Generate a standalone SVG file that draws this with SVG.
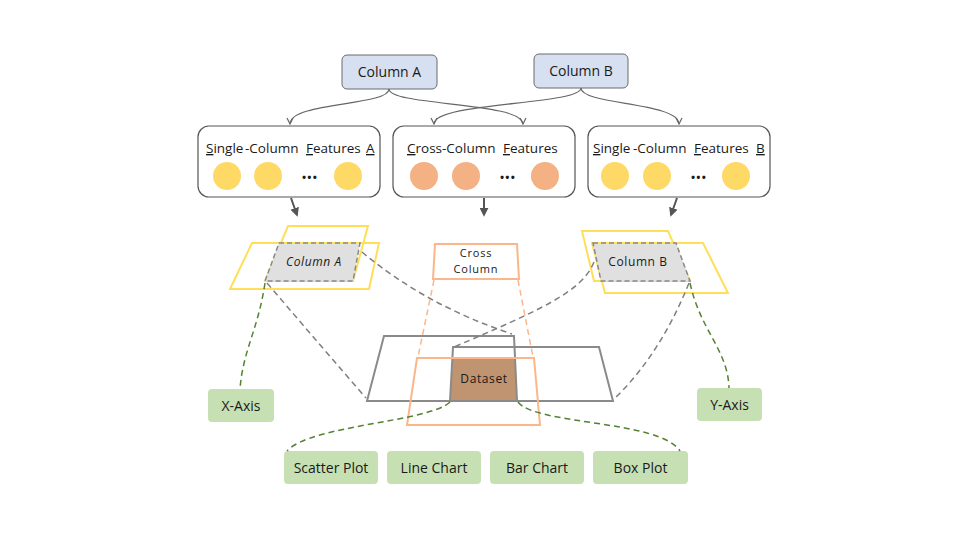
<svg xmlns="http://www.w3.org/2000/svg" width="960" height="540" viewBox="0 0 960 540">
<defs>
<style>
text{font-family:"Open Sans","Noto Sans","Liberation Sans",sans-serif;fill:#1a1a1a}
.col{fill:#d6e0f1;stroke:#6b6b6b;stroke-width:1}
.feat{fill:#fff;stroke:#555;stroke-width:1.2}
.ft{font-size:13.5px}
.u{text-decoration:underline}
.y{fill:#ffd966}
.o{fill:#f4b183}
.dots{font-size:11px;font-weight:bold;letter-spacing:1.2px}
.yp{fill:none;stroke:#ffdf5a;stroke-width:2}
.gp{fill:#e0e0e0;stroke:#888;stroke-width:1.5;stroke-dasharray:5,3}
.gr{fill:none;stroke:#8a8a8a;stroke-width:2}
.op{fill:none;stroke:#fbb68b;stroke-width:2}
.sm{font-size:12px;letter-spacing:0.6px}
.cc{font-size:11px;letter-spacing:0.8px}
.gb{fill:#c6e0b4}
.gt{font-size:14px}
.cur{fill:none;stroke:#666;stroke-width:1.1}
.thick{fill:none;stroke:#555;stroke-width:2}
.dg{fill:none;stroke:#7f7f7f;stroke-width:1.5;stroke-dasharray:6,4}
.dgr{fill:none;stroke:#548235;stroke-width:1.5;stroke-dasharray:6,4}
.dor{fill:none;stroke:#fbb68b;stroke-width:1.5;stroke-dasharray:6,4}
</style>
<marker id="ah" viewBox="0 0 8 8" refX="7" refY="4" markerWidth="8" markerHeight="8" markerUnits="userSpaceOnUse" orient="auto">
<path d="M1,1 L7,4 L1,7" fill="none" stroke="#666" stroke-width="1.2"/>
</marker>
<marker id="ahT" viewBox="0 0 10 10" refX="8" refY="5" markerWidth="9" markerHeight="9" markerUnits="userSpaceOnUse" orient="auto">
<path d="M0,0 L10,5 L0,10 z" fill="#555"/>
</marker>
</defs>
<rect width="960" height="540" fill="#fff"/>

<g id="column-a">
<rect class="col" x="342" y="55" width="95" height="34" rx="5"/>
<text class="gt" x="389.5" y="77" text-anchor="middle">Column A</text>
</g>
<g id="column-b">
<rect class="col" x="534" y="54" width="94" height="34" rx="5"/>
<text class="gt" x="581" y="76" text-anchor="middle">Column B</text>
</g>

<g id="single-features-a">
<rect class="feat" x="198" y="126" width="182" height="71" rx="11"/>
<text class="ft" y="153"><tspan x="206" class="u">S</tspan><tspan>ingle</tspan><tspan x="245">-Column</tspan><tspan x="306" class="u">F</tspan><tspan>eatures</tspan><tspan x="366" class="u">A</tspan></text>
<circle class="y" cx="227" cy="176" r="14"/>
<circle class="y" cx="268" cy="176" r="14"/>
<text class="dots" x="310" y="181" text-anchor="middle">•••</text>
<circle class="y" cx="348" cy="176" r="14"/>
</g>
<g id="cross-features">
<rect class="feat" x="393" y="126" width="182" height="71" rx="11"/>
<text class="ft" y="153"><tspan x="407" class="u">C</tspan><tspan>ross</tspan><tspan x="442">-Column</tspan><tspan x="503" class="u">F</tspan><tspan>eatures</tspan></text>
<circle class="o" cx="424" cy="176" r="14"/>
<circle class="o" cx="466" cy="176" r="14"/>
<text class="dots" x="508" y="181" text-anchor="middle">•••</text>
<circle class="o" cx="545" cy="176" r="14"/>
</g>
<g id="single-features-b">
<rect class="feat" x="588" y="126" width="182" height="71" rx="11"/>
<text class="ft" y="153"><tspan x="593" class="u">S</tspan><tspan>ingle</tspan><tspan x="633">-Column</tspan><tspan x="694" class="u">F</tspan><tspan>eatures</tspan><tspan x="756" class="u">B</tspan></text>
<circle class="y" cx="615" cy="176" r="14"/>
<circle class="y" cx="657" cy="176" r="14"/>
<text class="dots" x="699" y="181" text-anchor="middle">•••</text>
<circle class="y" cx="736" cy="176" r="14"/>
</g>

<g id="plane-column-a">
<polygon class="yp" points="252,243 379,243 369,289 230,289"/>
<polygon class="yp" points="288,226 368,226 353,281 265,281"/>
<polygon class="gp" points="279,243 360,243 353,281 265,281"/>
<text class="sm" x="314" y="266" text-anchor="middle" font-style="italic">Column A</text>
</g>
<g id="plane-column-b">
<polygon class="yp" points="582,231 668,231 690,281 594,281"/>
<polygon class="yp" points="592,243 703,243 728,293 605,293"/>
<polygon class="gp" points="593,243 676,243 690,281 601,281"/>
<text class="sm" x="638" y="266" text-anchor="middle">Column B</text>
</g>
<g id="cross-column">
<polygon class="op" points="435,244 517,244 519,279 433,279" style="fill:#fff"/>
<text class="cc" x="476" y="257" text-anchor="middle">Cross</text>
<text class="cc" x="476" y="273" text-anchor="middle">Column</text>
</g>
<g id="dataset">
<polygon points="453,358 515,358 517,401 450,401" fill="#c09470"/>
<polygon class="gr" points="384,336 514,336 517,401 367,401"/>
<polygon class="gr" points="453,347 599,347 613,401 450,401"/>
<polygon class="op" points="417,358 534,358 540,425 407,425"/>
<text class="sm" x="484" y="383" text-anchor="middle">Dataset</text>
</g>

<g id="x-axis"><rect class="gb" x="208" y="389" width="66" height="33" rx="4"/><text class="gt" x="241" y="411" text-anchor="middle">X-Axis</text></g>
<g id="y-axis"><rect class="gb" x="697" y="388" width="65" height="33" rx="4"/><text class="gt" x="729.5" y="410" text-anchor="middle">Y-Axis</text></g>
<g id="scatter-plot"><rect class="gb" x="284" y="451" width="94" height="33" rx="4"/><text class="gt" x="331" y="473" text-anchor="middle">Scatter Plot</text></g>
<g id="line-chart"><rect class="gb" x="387" y="451" width="94" height="33" rx="4"/><text class="gt" x="434" y="473" text-anchor="middle">Line Chart</text></g>
<g id="bar-chart"><rect class="gb" x="490" y="451" width="94" height="33" rx="4"/><text class="gt" x="537" y="473" text-anchor="middle">Bar Chart</text></g>
<g id="box-plot"><rect class="gb" x="593" y="451" width="95" height="33" rx="4"/><text class="gt" x="640.5" y="473" text-anchor="middle">Box Plot</text></g>

<g id="connectors">
<path class="cur" marker-end="url(#ah)" d="M389,89 C389,106 290,102 290,124"/>
<path class="cur" marker-end="url(#ah)" d="M389,89 C389,106 523,102 523,124"/>
<path class="cur" marker-end="url(#ah)" d="M581,88 C581,105 434,102 434,124"/>
<path class="cur" marker-end="url(#ah)" d="M581,88 C581,105 679,102 679,124"/>
<path class="thick" marker-end="url(#ahT)" d="M291,198 L297,215"/>
<path class="thick" marker-end="url(#ahT)" d="M484,198 L484,215"/>
<path class="thick" marker-end="url(#ahT)" d="M677,198 L671,215"/>
<path class="dg" d="M362,252 Q425,305 512,334"/>
<path class="dg" d="M267,283 Q320,345 366,398"/>
<path class="dg" d="M594,262 C582,292 540,310 454,347"/>
<path class="dg" d="M689,283 Q660,355 614,399"/>
<path class="dor" d="M434,280 L418,357"/>
<path class="dor" d="M518,280 L533,357"/>
<path class="dgr" d="M265,283 C258,330 243,350 240,389"/>
<path class="dgr" d="M690,283 C700,330 728,350 729,388"/>
<path class="dgr" d="M450,402 C430,422 310,425 287,451"/>
<path class="dgr" d="M518,402 C535,425 660,420 680,451"/>
</g>
</svg>
